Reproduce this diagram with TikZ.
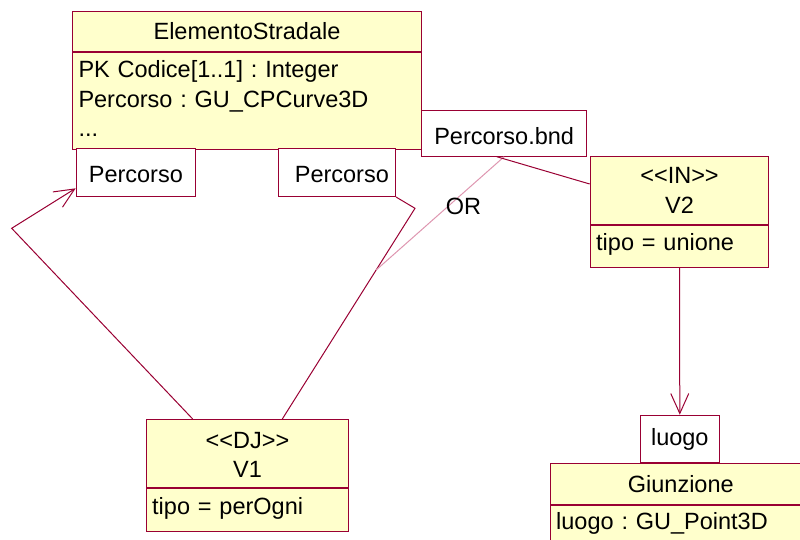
\documentclass[tikz,border=0pt]{standalone}
\usepackage{fontspec}
\setmainfont{Liberation Sans}
\usetikzlibrary{positioning,arrows.meta,calc}
\definecolor{umlred}{RGB}{153,0,51}
\definecolor{umlyellow}{RGB}{255,255,204}
\definecolor{orpink}{RGB}{222,150,176}
\frenchspacing
\begin{document}
\begin{tikzpicture}[
  x=1pt, y=-1pt,
  font=\fontsize{23.5}{29.6}\selectfont,
  head/.style={draw=umlred, fill=umlyellow, line width=1pt, inner xsep=6pt, inner ysep=0pt, align=center, anchor=north west},
  attr/.style={draw=umlred, fill=umlyellow, line width=1pt, inner xsep=6pt, inner ysep=0pt, align=left},
  qual/.style={draw=umlred, fill=white, line width=1pt, inner sep=0pt, anchor=north west},
  assoc/.style={draw=umlred, line width=1pt},
  nav/.style={assoc, -{Straight Barb[length=20pt,width=18pt]}},
  orline/.style={draw=orpink, line width=1pt}
]
\useasboundingbox (0,0) rectangle (800,539);

% ElementoStradale with its qualifiers
\node[head, text width=337pt, text height=28.3pt, text depth=11.7pt] (esHead) at (72,11) {ElementoStradale};
\node[attr, text width=337pt, text height=25pt, text depth=72.3pt, below=0pt of esHead] (esAttr) {PK Codice[1..1] : Integer\\Percorso : GU\_CPCurve3D\\...};
\node[qual, minimum width=119.3pt, text height=33.4pt, text depth=14.3pt] (qLeft) at (75.7,148.3) {Percorso};
\node[qual, minimum width=117.3pt, text height=33.4pt, text depth=14.3pt] (qRight) at (277.7,148.3) {\hspace{10pt}Percorso};
\node[qual, minimum width=165.3pt, text height=34.3pt, text depth=11.4pt] (qBnd) at (421,110) {Percorso.bnd};

% V2
\node[head, text width=166.6pt, text height=27.3pt, text depth=41pt] (v2Head) at (589.7,156) {<{}<IN>{}>\\V2};
\node[attr, text width=166.6pt, text height=24.7pt, text depth=16.7pt, below=0pt of v2Head] (v2Attr) {tipo = unione};

% V1
\node[head, text width=190.6pt, text height=28.7pt, text depth=39.6pt] (v1Head) at (145.7,419) {<{}<DJ>{}>\\V1};
\node[attr, text width=190.6pt, text height=26pt, text depth=16.7pt, below=0pt of v1Head] (v1Attr) {tipo = perOgni};

% Giunzione
\node[head, text width=249.2pt, text height=29.6pt, text depth=12pt] (giHead) at (549.7,462.7) {Giunzione};
\node[attr, text width=249.2pt, text height=23.4pt, text depth=40pt, below=0pt of giHead] (giAttr) {luogo : GU\_Point3D};
\node[qual, anchor=south, minimum width=79pt, text height=30pt, text depth=17pt, above=0pt of giHead, xshift=-1pt] (qLuogo) {luogo};

\coordinate (bendL) at (11.7,228.3);
\coordinate (bendR) at (415,208.3);

\draw[nav] ($(v1Head.north west)+(47,0)$) -- (bendL) -- ($(qLeft.south west)+(0,-8.7)$);
\draw[assoc] ($(v1Head.north west)+(136.6,0)$) coordinate (v1R) -- (bendR) -- (qRight.south east);
\draw[orline] (qBnd.south) -- ($(v1R)!0.707!(bendR)$) node[pos=0.44, anchor=west, xshift=-2.5pt, inner sep=0pt, text=black] (orLabel) {OR};
\draw[assoc] ($(qBnd.south)+(-7.4,0)$) -- ($(v2Head.north west)+(0,28)$);
\draw[nav] (v2Attr.south) -- (qLuogo.north);
\end{tikzpicture}
\end{document}
